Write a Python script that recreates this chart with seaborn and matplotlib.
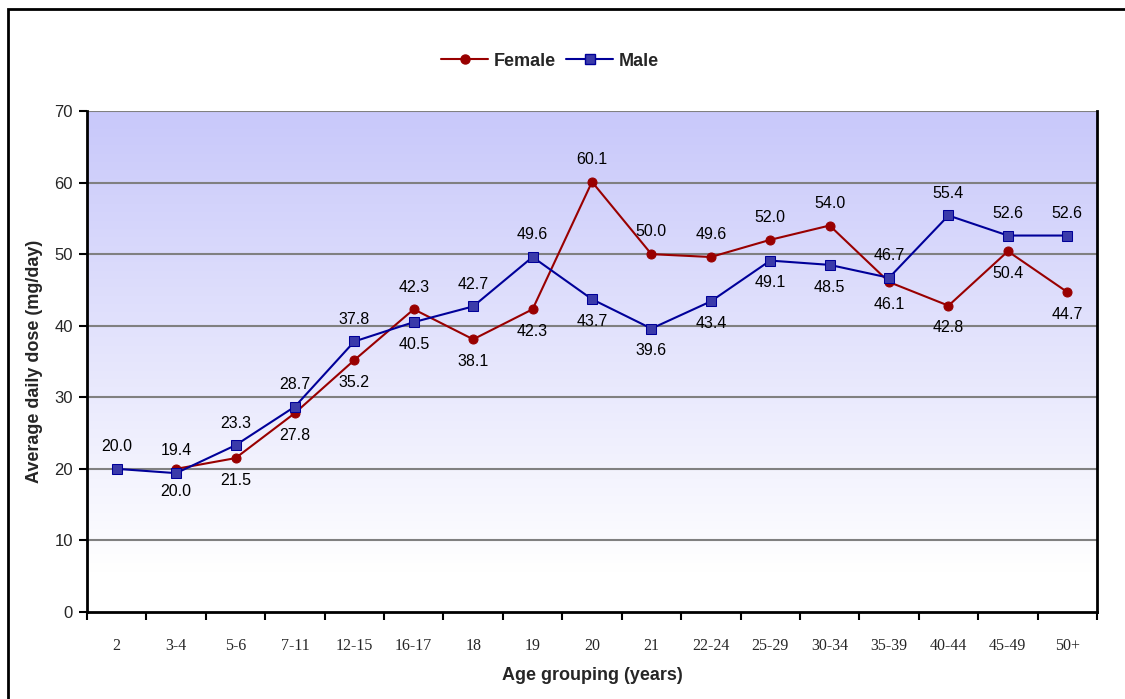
import numpy as np
import pandas as pd
import seaborn as sns
import matplotlib.pyplot as plt
from matplotlib.colors import LinearSegmentedColormap
from matplotlib.lines import Line2D
from matplotlib.patches import Rectangle

# chart data
age_groups = ["2", "3-4", "5-6", "7-11", "12-15", "16-17", "18", "19", "20", "21",
              "22-24", "25-29", "30-34", "35-39", "40-44", "45-49", "50+"]
female = [np.nan, 20.0, 21.5, 27.8, 35.2, 42.3, 38.1, 42.3, 60.1, 50.0,
          49.6, 52.0, 54.0, 46.1, 42.8, 50.4, 44.7]
male = [20.0, 19.4, 23.3, 28.7, 37.8, 40.5, 42.7, 49.6, 43.7, 39.6,
        43.4, 49.1, 48.5, 46.7, 55.4, 52.6, 52.6]
# +1 = male label above the point, -1 = below (female label goes the other way)
male_label_side = [1, 1, 1, 1, 1, -1, 1, 1, -1, -1, -1, -1, -1, 1, 1, 1, 1]

pos = np.arange(len(age_groups))
df = pd.DataFrame({
    "pos": np.concatenate([pos, pos]),
    "dose": female + male,
    "sex": ["Female"] * len(pos) + ["Male"] * len(pos),
})

sns.set_theme(style="white")
plt.rcParams["font.family"] = ["Liberation Sans", "DejaVu Sans"]

red = "#990000"
blue = "#000099"

fig = plt.figure(figsize=(11.25, 6.99), dpi=100)
ax = fig.add_axes([87 / 1125, 87 / 699, 1010 / 1125, 501 / 699])

# gradient background of the plot area
cmap = LinearSegmentedColormap.from_list(
    "bg", [(0.0, "#ffffff"), (0.08, "#ffffff"), (1.0, "#c8c8fa")])
grad = np.linspace(0, 1, 256).reshape(-1, 1)
ax.imshow(grad, cmap=cmap, origin="lower", aspect="auto",
          extent=[-0.5, len(pos) - 0.5, 0, 70], zorder=0, interpolation="bilinear")

for y in range(10, 71, 10):
    ax.axhline(y, color="#808080", lw=1.5, zorder=1)

sns.lineplot(data=df, x="pos", y="dose", hue="sex", style="sex",
             palette={"Female": red, "Male": blue},
             markers={"Female": "o", "Male": "s"}, dashes=False,
             lw=1.5, markersize=6.5, markeredgecolor=None,
             legend=False, ax=ax, zorder=3)
# square markers: lighter face like the original
for line in ax.lines:
    if line.get_marker() == "s":
        line.set_markerfacecolor("#3a3aaa")
        line.set_markeredgecolor(blue)

for i in pos:
    m = male[i]
    ax.annotate(f"{m:.1f}", (i, m), xytext=(0, 16 * male_label_side[i]),
                textcoords="offset points", ha="center", va="center",
                fontsize=11.5, color="black", zorder=5)
    f = female[i]
    if not np.isnan(f):
        ax.annotate(f"{f:.1f}", (i, f), xytext=(0, -16 * male_label_side[i]),
                    textcoords="offset points", ha="center", va="center",
                    fontsize=11.5, color="black", zorder=5)

ax.set_xlim(-0.5, len(pos) - 0.5)
ax.set_ylim(0, 70)
ax.set_yticks(range(0, 71, 10))
ax.set_yticklabels([str(v) for v in range(0, 71, 10)], fontsize=12)
ax.set_xticks(np.arange(-0.5, len(pos), 1.0))
ax.set_xticklabels([])
ax.set_xticks(pos, minor=True)
ax.set_xticklabels(age_groups, minor=True, fontsize=11.5,
                   family=["Liberation Serif", "DejaVu Serif"])
ax.tick_params(axis="x", which="major", direction="out", length=6, width=1.5,
               color="black", bottom=True)
ax.tick_params(axis="x", which="minor", length=0, pad=19)
ax.tick_params(axis="y", direction="out", length=6, width=1.5, color="black",
               left=True, pad=4)

for side in ["left", "bottom", "right"]:
    ax.spines[side].set_color("black")
    ax.spines[side].set_linewidth(2)
ax.spines["top"].set_visible(False)

ax.set_xlabel("Age grouping (years)", fontsize=13, fontweight="bold", labelpad=9)
ax.set_ylabel("Average daily dose (mg/day)", fontsize=13, fontweight="bold", labelpad=8)

handles = [
    Line2D([], [], color=red, marker="o", lw=1.5, markersize=6.5, markeredgecolor=red),
    Line2D([], [], color=blue, marker="s", lw=1.5, markersize=6.5,
           markerfacecolor="#3a3aaa", markeredgecolor=blue),
]
fig.legend(handles, ["Female", "Male"], loc="center", ncol=2,
           bbox_to_anchor=(550 / 1125, 1 - 61 / 699), frameon=False,
           prop={"weight": "bold", "size": 13}, handlelength=2.6,
           handletextpad=0.3, columnspacing=0.6)

# outer chart border
fig.patches.append(Rectangle((8 / 1125, -0.05), 1.0, 1 - 9 / 699 + 0.05,
                             transform=fig.transFigure, fill=False,
                             edgecolor="black", lw=2))

fig.savefig("out.png", dpi=100)
